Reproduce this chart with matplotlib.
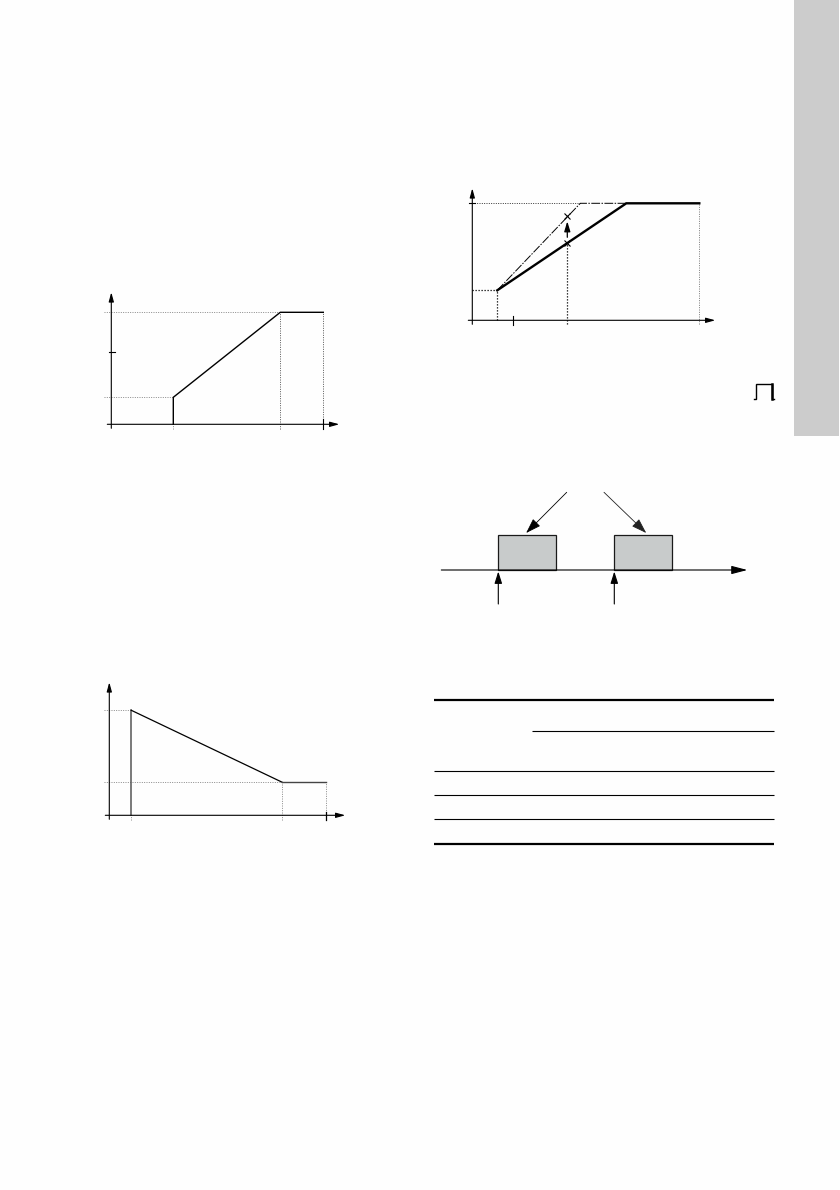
import matplotlib
matplotlib.use("Agg")
import matplotlib.pyplot as plt
from matplotlib.patches import Rectangle

W, H = 840, 1190

# rising curve, left diagram (distance from origin)
rise_x = [62, 62, 169, 212]
rise_y = [0, 27, 112, 112]
rise_ytick = 72

# falling curve, lower left diagram
fall_x = [22, 22, 173, 217]
fall_y = [0, 105, 33, 33]

# two gain lines, upper right diagram
gain_x = [25, 154, 227]
gain_y = [30, 117, 117]
gain_alt_x = [25, 108, 154]
gain_alt_y = [30, 117, 117]
gain_marker_x = 95
gain_marker_y = [77, 104]
gain_xtick = 41

# pulse diagram
pulse_starts = [0, 116]
pulse_width = 58
pulse_height = 35

# table rules
rule_y_thick = [700, 844]
rule_y_thin = [771.3, 795.3, 819.3]
rule_y_sub = 731.3

# symbol next to the pulse diagram
symbol_x = [0, 2, 2, 17.5, 17.5, 20]
symbol_y = [0, 0, 15, 15, 0, 0]

fig = plt.figure(figsize=(W / 100, H / 100), dpi=100, facecolor="#fefefe")


def make_axes(left, top, right, bottom, ox, oy):
    # axes placed in page pixels, data measured from the origin (ox, oy)
    ax = fig.add_axes([left / W, 1 - bottom / H, (right - left) / W, (bottom - top) / H])
    ax.set_xlim(left - ox, right - ox)
    ax.set_ylim(oy - bottom, oy - top)
    ax.axis("off")
    ax.patch.set_alpha(0)
    return ax


def arrow(ax, start, end, scale=10, length=0.55, width=0.15, lw=0.8, color="black"):
    ax.annotate(
        "", xy=end, xytext=start,
        arrowprops=dict(
            arrowstyle=f"-|>,head_length={length},head_width={width}",
            mutation_scale=scale, shrinkA=0, shrinkB=0,
            lw=lw, color=color, fc=color,
        ),
    )


def dotted(ax, xs, ys, color="#555555", lw=0.7):
    ax.plot(xs, ys, color=color, lw=lw, ls=(0, (1, 1.4)), solid_capstyle="butt")


def axes_lines(ax, x_end, y_end):
    arrow(ax, (-4, 0), (x_end, 0))
    arrow(ax, (0, -4), (0, y_end))


# left diagram, rising
ax = make_axes(100, 285, 345, 435, 111.3, 424.3)
axes_lines(ax, 228, 132)
dotted(ax, [-7, rise_x[2]], [rise_y[2], rise_y[2]], color="#888888")
dotted(ax, [-7, rise_x[1]], [rise_y[1], rise_y[1]], color="#888888")
dotted(ax, [rise_x[0], rise_x[0]], [-5, 0], color="#888888")
dotted(ax, [rise_x[2], rise_x[2]], [-5, rise_y[2]])
dotted(ax, [rise_x[3], rise_x[3]], [0, rise_y[3]])
ax.plot([rise_x[3], rise_x[3]], [-5, 5], color="black", lw=0.8)
ax.plot([-2, 4], [rise_ytick, rise_ytick], color="black", lw=0.8)
ax.plot(rise_x, rise_y, color="black", lw=1.0, solid_joinstyle="miter")

# lower left diagram, falling
ax = make_axes(98, 675, 352, 826, 109.3, 815.3)
axes_lines(ax, 236, 133)
dotted(ax, [-5, fall_x[1]], [fall_y[1], fall_y[1]], color="#888888")
dotted(ax, [-5, fall_x[2]], [fall_y[2], fall_y[2]], color="#888888")
dotted(ax, [fall_x[0], fall_x[0]], [-5, 0], color="#888888")
dotted(ax, [fall_x[2], fall_x[2]], [-5, fall_y[2]], color="#888888")
dotted(ax, [fall_x[3], fall_x[3]], [0, fall_y[3]], color="#888888")
ax.plot([fall_x[3], fall_x[3]], [-5, 3], color="black", lw=0.9)
ax.plot(fall_x[:2], fall_y[:2], color="#555555", lw=1.1)
ax.plot(fall_x[1:3], fall_y[1:3], color="black", lw=0.9)
ax.plot(fall_x[2:], fall_y[2:], color="#444444", lw=1.0)

# upper right diagram, gain lines
ax = make_axes(460, 180, 722, 332, 472.3, 320.3)
axes_lines(ax, 243, 132)
dotted(ax, [0, gain_alt_x[1]], [gain_y[1], gain_y[1]], color="#333333")
ax.plot([-3, 3], [gain_y[1], gain_y[1]], color="black", lw=0.8)
dotted(ax, [0, gain_x[0]], [gain_y[0], gain_y[0]], color="black", lw=0.9)
dotted(ax, [gain_x[0], gain_x[0]], [0, gain_y[0]], color="black", lw=0.9)
dotted(ax, [gain_marker_x, gain_marker_x], [-4, gain_marker_y[0]], color="black", lw=0.9)
dotted(ax, [gain_x[2], gain_x[2]], [-4, gain_y[2]], color="#777777")
ax.plot([gain_xtick, gain_xtick], [-5, 4], color="black", lw=0.8)
ax.plot(gain_alt_x, gain_alt_y, color="black", lw=0.7, ls=(0, (9, 1.5, 1.5, 1.5)))
ax.plot(gain_x, gain_y, color="black", lw=1.7, solid_joinstyle="miter")
ax.plot([gain_marker_x] * 2, gain_marker_y, ls="none", marker="x", ms=4.5, mew=0.8, color="black")
arrow(ax, (gain_marker_x, gain_marker_y[0] + 6), (gain_marker_x, gain_marker_y[1] - 5), length=0.6, width=0.18, lw=0.9)

# symbol
ax = make_axes(750, 380, 778, 403, 754, 399)
ax.plot(symbol_x, symbol_y, color="black", lw=1.0, solid_joinstyle="miter")
ax.plot(symbol_x[3:5], symbol_y[3:5], color="black", lw=1.8)

# pulse diagram
ax = make_axes(435, 485, 755, 610, 498.3, 570)
for start in pulse_starts:
    ax.add_patch(Rectangle((start, 0), pulse_width, pulse_height, fc="#c8cbcb", ec="#1a1a1a", lw=0.9))
    arrow(ax, (start, -34), (start, -1.5), scale=12, length=0.6, width=0.19, lw=0.8)
arrow(ax, (-57, 0), (249, 0), scale=12, length=0.8, width=0.21, lw=0.8)
arrow(ax, (68.4, 77.7), (pulse_width * 0.48, pulse_height + 2), scale=12, length=0.78, width=0.26, lw=0.6)
arrow(ax, (105.7, 77.7), (pulse_starts[1] + pulse_width * 0.55, pulse_height + 2), scale=12, length=0.78, width=0.26, lw=0.6, color="#222222")

# table rules
ax = make_axes(0, 0, W, H, 0, H)
ax.hlines([H - y for y in rule_y_thick], 434, 774, color="black", lw=1.6)
ax.hlines([H - y for y in rule_y_thin], 434, 774, color="black", lw=0.8)
ax.hlines(H - rule_y_sub, 532.3, 774, color="black", lw=0.8)

# side tab
fig.add_artist(Rectangle((794 / W, 1 - 435.7 / H), 45 / W, 435.7 / H, transform=fig.transFigure, fc="#cccccc", ec="none"))

fig.savefig("out.png", dpi=100, facecolor=fig.get_facecolor())
